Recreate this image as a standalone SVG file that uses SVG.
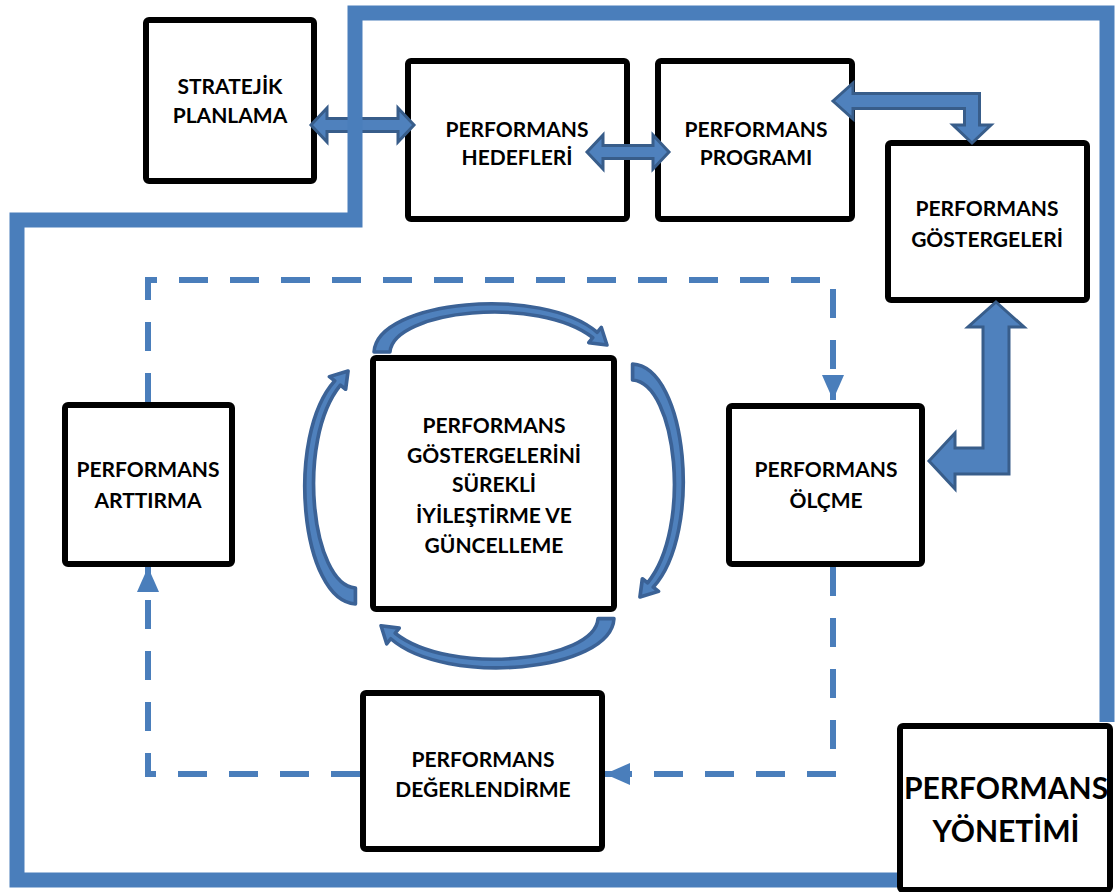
<svg xmlns="http://www.w3.org/2000/svg" width="1116" height="892" viewBox="0 0 1116 892">
<style>
.box rect{fill:#fff;stroke:#000;stroke-width:6}
.box text{font-family:Lato,"Open Sans","Liberation Sans",sans-serif;font-weight:bold;font-size:21px;fill:#000;text-anchor:middle}
.blk{fill:#4f81bd;stroke:#385d8a;stroke-width:3;stroke-linejoin:miter}
.crv{fill:#4f81bd;stroke:#3b6296;stroke-width:3.5;stroke-linejoin:round}
.dash{fill:none;stroke:#4a7ebb;stroke-width:6;stroke-dasharray:29 22}
.border{fill:none;stroke:#4a7ebb;stroke-width:15}
</style>
<defs>
<marker id="tri" markerUnits="userSpaceOnUse" viewBox="0 0 25 22" refX="25" refY="11" markerWidth="25" markerHeight="22" orient="auto">
<path d="M0,0 L25,11 L0,22 Z" fill="#4a7ebb"/>
</marker>
<path id="arc" d="M-120,-132 C-117,-184 48,-199 103.2,-151.7 L107.3,-156.7 L113,-139 L94.7,-141.3 L98.8,-146.3 C44,-189 -101,-174 -104,-132 Z"/>
</defs>
<g id="stratejik" class="box"><rect x="146" y="20" width="168" height="161" rx="3"/><text x="230" y="94">STRATEJİK</text><text x="230" y="123">PLANLAMA</text></g>
<g id="hedefleri" class="box"><rect x="408" y="61" width="219" height="158" rx="3"/><text x="517" y="137">PERFORMANS</text><text x="517" y="165">HEDEFLERİ</text></g>
<g id="programi" class="box"><rect x="658" y="61" width="194" height="158" rx="3"/><text x="756" y="137">PERFORMANS</text><text x="756" y="165">PROGRAMI</text></g>
<g id="gostergeleri" class="box"><rect x="888" y="143" width="199" height="157" rx="3"/><text x="987" y="216">PERFORMANS</text><text x="987" y="247">GÖSTERGELERİ</text></g>
<g id="arttirma" class="box"><rect x="65" y="405" width="167" height="159" rx="3"/><text x="148" y="477">PERFORMANS</text><text x="148" y="508">ARTTIRMA</text></g>
<g id="merkez" class="box"><rect x="373" y="358" width="241" height="251" rx="3"/><text x="494" y="433">PERFORMANS</text><text x="494" y="463">GÖSTERGELERİNİ</text><text x="494" y="492">SÜREKLİ</text><text x="494" y="523">İYİLEŞTİRME VE</text><text x="494" y="553">GÜNCELLEME</text></g>
<g id="olcme" class="box"><rect x="729" y="406" width="193" height="158" rx="3"/><text x="826" y="477">PERFORMANS</text><text x="826" y="508">ÖLÇME</text></g>
<g id="degerlendirme" class="box"><rect x="363" y="693" width="239" height="156" rx="3"/><text x="483" y="767">PERFORMANS</text><text x="483" y="797">DEĞERLENDİRME</text></g>
<g id="connectors">
<polygon class="blk" points="311,125 327,108 327,118.5 398,118.5 398,108 414,125 398,142 398,131.5 327,131.5 327,142"/>
<polygon class="blk" points="587,152 603,135 603,145.5 653,145.5 653,135 669,152 653,169 653,158.5 603,158.5 603,169"/>
<polygon class="blk" points="833,101 853,83 853,93.5 979.5,93.5 979.5,125 991,125 972,143 953,125 964.5,125 964.5,108.5 853,108.5 853,119"/>
<polygon class="blk" points="996,302 1024,327 1009,327 1009,474 955,474 955,489 929,461 955,433 955,448 983,448 983,327 968,327"/>
<path class="dash" d="M148,402 V280 H833 V400" marker-end="url(#tri)"/>
<path class="dash" d="M833,567 V774 H605" marker-end="url(#tri)"/>
<path class="dash" d="M360,774 H148 V567" marker-end="url(#tri)"/>
<use href="#arc" class="crv" transform="translate(494,484)"/>
<use href="#arc" class="crv" transform="translate(494,484) rotate(90) scale(1,1.05)"/>
<use href="#arc" class="crv" transform="translate(494,484) rotate(180) scale(1,1.02)"/>
<use href="#arc" class="crv" transform="translate(494,484) rotate(270) scale(1,1.05)"/>
</g>
<path id="border" class="border" d="M1107,722 V13 H355 V220 H17 V880 H897"/>
<g id="yonetimi" class="box"><rect x="900" y="726" width="210" height="164" rx="3"/><text x="1006" y="799" style="font-size:30px">PERFORMANS</text><text x="1006" y="842" style="font-size:30px">YÖNETİMİ</text></g>
</svg>
